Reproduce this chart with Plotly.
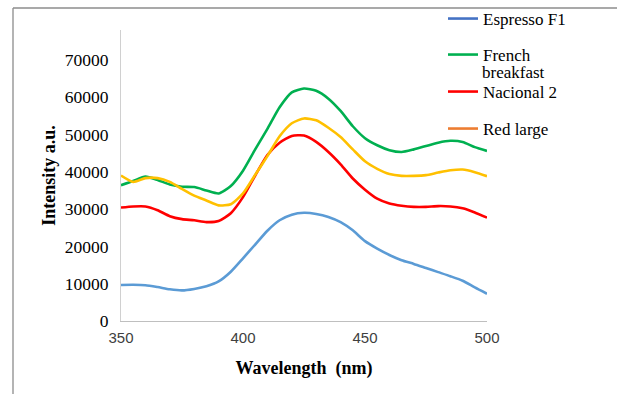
import plotly.graph_objects as go

wavelength = [350, 355, 360, 365, 370, 375, 380, 385, 390, 395, 400, 405, 410, 415, 420,
              425, 430, 435, 440, 445, 450, 455, 460, 465, 470, 475, 480, 485, 490, 495, 500]

espresso_f1 = [9650, 9700, 9600, 9100, 8500, 8200, 8600, 9300, 10600, 13200, 16800, 20500,
               24200, 27000, 28500, 29000, 28700, 27900, 26500, 24300, 21400, 19400, 17700,
               16300, 15300, 14200, 13100, 12000, 10800, 9000, 7300]

french_breakfast = [36400, 37500, 38700, 37800, 36600, 36000, 35900, 35000, 34200, 36200,
                    40300, 46000, 51500, 57300, 61300, 62300, 61700, 59600, 56300, 52200,
                    49000, 47100, 45800, 45300, 46000, 46900, 47800, 48300, 48000, 46600, 45600]

nacional_2 = [30400, 30700, 30700, 29700, 28100, 27300, 27000, 26500, 26800, 28900, 33200,
              39000, 44500, 47800, 49600, 49700, 48000, 45300, 42000, 38200, 35200, 32800,
              31500, 30900, 30600, 30600, 30800, 30700, 30200, 29100, 27700]

red_large = [39000, 37300, 38300, 38300, 37300, 35400, 33600, 32300, 31000, 31300, 34200,
             39200, 44200, 49500, 53000, 54300, 53800, 51800, 49300, 46000, 42800, 40800,
             39400, 38900, 38900, 39100, 39800, 40400, 40600, 39900, 38800]

series_names = ["Espresso F1", "French", "Nacional 2", "Red large"]
series_values = [espresso_f1, french_breakfast, nacional_2, red_large]
curve_colors = ["#5B9BD5", "#00B050", "#FF0000", "#FFC000"]
legend_colors = ["#4472C4", "#00B050", "#FF0000", "#ED7D31"]

x_ticks = [350, 400, 450, 500]
y_ticks = [0, 10000, 20000, 30000, 40000, 50000, 60000, 70000]

SERIF = "Liberation Serif, Times New Roman, serif"
W, H = 617, 394
# plot area in pixels
PL, PR, PT, PB = 121, 487, 30, 321


def px_x(p):
    return (p - PL) / (PR - PL)


def px_y(p):
    return (PB - p) / (PB - PT)


fig = go.Figure()
for vals, col in zip(series_values, curve_colors):
    fig.add_trace(go.Scatter(x=wavelength, y=vals, mode="lines",
                             line=dict(color=col, width=2.6, shape="spline", smoothing=0.6),
                             showlegend=False, hoverinfo="skip"))

# legend entries (each in its own legend so spacing matches the original)
legend_ids = ["legend", "legend2", "legend3", "legend4"]
legend_y_px = [19, 55, 92, 129]
for name, col, lid in zip(series_names, legend_colors, legend_ids):
    fig.add_trace(go.Scatter(x=[None], y=[None], mode="lines", name=name,
                             line=dict(color=col, width=2.6), legend=lid))

layout_legends = {}
for lid, ypx in zip(legend_ids, legend_y_px):
    layout_legends[lid] = dict(
        x=443 / W, xref="container", xanchor="left",
        y=1 - (ypx - 18) / H, yref="container", yanchor="top",
        bgcolor="rgba(0,0,0,0)", borderwidth=0, valign="top",
        font=dict(family=SERIF, size=17, color="#000000"),
        tracegroupgap=0, itemwidth=30,
    )

fig.update_layout(
    width=W, height=H,
    margin=dict(l=PL, r=W - PR, t=PT, b=H - PB, autoexpand=False),
    paper_bgcolor="white", plot_bgcolor="white",
    xaxis=dict(range=[350, 500], tickvals=x_ticks, showgrid=False, zeroline=False,
               showline=True, linecolor="#BFBFBF", linewidth=1, ticks="",
               ticklabelstandoff=3,
               tickfont=dict(family="Liberation Sans, Arial, sans-serif", size=15, color="#404040"),
               title=dict(text="Wavelength\u00a0\u00a0(nm)", standoff=16,
                          font=dict(family=SERIF, size=18, color="#000000", weight="bold"))),
    yaxis=dict(range=[0, 78000], tickvals=y_ticks, tickformat="d", showgrid=False, zeroline=False,
               showline=True, linecolor="#D0D0D0", linewidth=1, ticks="",
               ticklabelstandoff=8,
               tickfont=dict(family=SERIF, size=17.5, color="#000000"),
               title=dict(text="Intensity a.u.", standoff=4,
                          font=dict(family=SERIF, size=18, color="#000000", weight="bold"))),
    shapes=[
        dict(type="line", xref="paper", yref="paper",
             x0=px_x(13), x1=px_x(625), y0=px_y(8), y1=px_y(8),
             line=dict(color="#8C8C8C", width=1.3)),
        dict(type="line", xref="paper", yref="paper",
             x0=px_x(13), x1=px_x(13), y0=px_y(8), y1=px_y(400),
             line=dict(color="#8C8C8C", width=1.3)),
    ],
    annotations=[
        dict(text="breakfast", xref="paper", yref="paper", x=px_x(481), y=px_y(72),
             xanchor="left", yanchor="middle", showarrow=False, borderpad=0,
             font=dict(family=SERIF, size=17, color="#000000")),
    ],
    **layout_legends,
)

fig.write_html("out.html", config={"displayModeBar": False},
               post_script="document.body.style.margin='0';")
